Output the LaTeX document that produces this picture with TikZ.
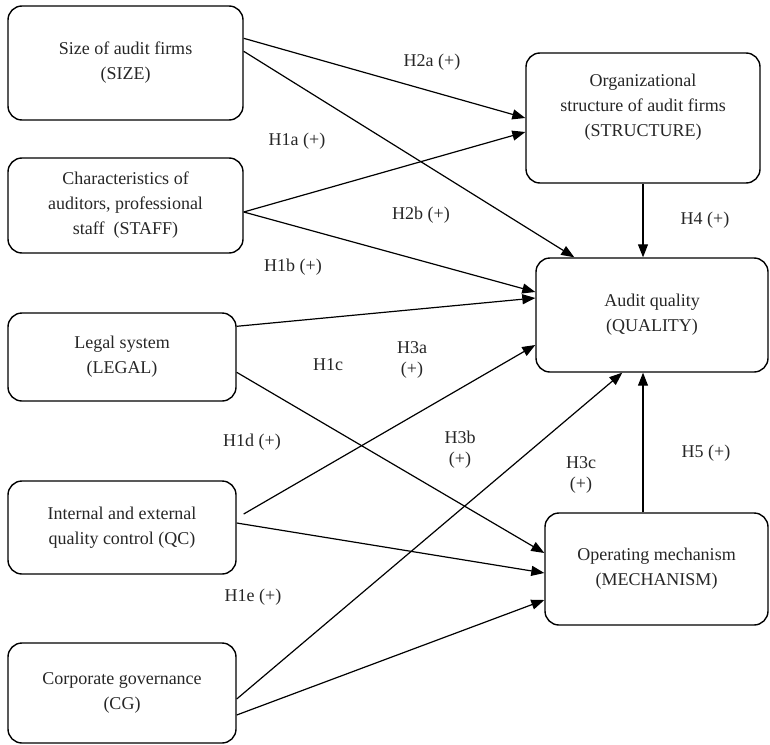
\documentclass[tikz,border=0pt]{standalone}
\usepackage{fontspec}
\setmainfont{Liberation Serif}
\usetikzlibrary{arrows.meta,calc}
\begin{document}
\begin{tikzpicture}[x=1bp,y=-1bp,
  box/.style={draw, rounded corners=14bp, line width=1.4bp, align=center, inner sep=0pt,
    font=\fontsize{18bp}{25bp}\selectfont, text=black!85},
  lbl/.style={align=center, inner sep=0pt, font=\fontsize{18bp}{21bp}\selectfont, text=black!85},
  arr/.style={-{Triangle[length=13bp,width=10bp]}, line width=1.2bp}]
\useasboundingbox (0,0) rectangle (770,745);
% left boxes
\node[box, minimum width=235bp, minimum height=114bp] (size) at (125.5,63) {Size of audit firms\\(SIZE)};
\node[box, minimum width=235bp, minimum height=95bp] (staff) at (125.5,205.5) {Characteristics of\\auditors, professional\\staff\ \ (STAFF)};
\node[box, minimum width=228bp, minimum height=88bp] (legal) at (122,357) {Legal system\\(LEGAL)};
\node[box, minimum width=228bp, minimum height=93bp] (qc) at (122,527.5) {Internal and external\\quality control (QC)};
\node[box, minimum width=228bp, minimum height=100bp] (cg) at (122,693) {Corporate governance\\(CG)};
% right boxes
\node[box, minimum width=234bp, minimum height=130bp] (structure) at (643,118) {Organizational\\structure of audit firms\\(STRUCTURE)\\\mbox{}};
\node[box, minimum width=232bp, minimum height=114bp] (quality) at (652,315) {Audit quality\\(QUALITY)};
\node[box, minimum width=223bp, minimum height=112bp] (mechanism) at (656.5,569) {Operating mechanism\\(MECHANISM)};
% connectors
\draw[arr] ($(size.north east)+(0,33)$) -- (structure.west);
\draw[arr] ($(size.north east)+(0,46)$) -- ($(quality.north west)+(39,0)$);
\draw[arr] ($(staff.east)+(0,6.5)$) -- ($(structure.west)+(0,14)$);
\draw[arr] ($(staff.east)+(0,6.5)$) -- ($(quality.west)+(0,-23)$);
\draw[arr] ($(legal.north east)+(0,14)$) -- ($(quality.west)+(0,-17)$);
\draw[arr] ($(legal.north east)+(0,60)$) -- ($(mechanism.west)+(0,-16)$);
\draw[arr] ($(qc.east)+(7,-13.5)$) -- ($(quality.west)+(0,30)$);
\draw[arr] ($(qc.east)+(0,-4.5)$) -- ($(mechanism.west)+(0,4)$);
\draw[arr] ($(cg.east)+(0,6)$) -- ($(quality.south west)+(87,0)$);
\draw[arr] ($(cg.east)+(0,22)$) -- ($(mechanism.west)+(0,31)$);
\draw[arr] (structure.south) -- (structure.south |- quality.north);
\draw[arr] (structure.south |- mechanism.north) -- (structure.south |- quality.south);
% labels
\node[lbl] (l2a) at (432,62) {H2a (+)};
\node[lbl] (l1a) at (297,141) {H1a (+)};
\node[lbl] (l2b) at (421,215) {H2b (+)};
\node[lbl] (l1b) at (293,267) {H1b (+)};
\node[lbl] (l4) at (705,220) {H4 (+)};
\node[lbl] (l1c) at (328,365) {H1c};
\node[lbl] (l3a) at (412,360) {H3a\\(+)};
\node[lbl] (l1d) at (252,442) {H1d (+)};
\node[lbl] (l3b) at (460,450) {H3b\\(+)};
\node[lbl] (l3c) at (581,475) {H3c\\(+)};
\node[lbl] (l5) at (706,453) {H5 (+)};
\node[lbl] (l1e) at (253,597) {H1e (+)};
\end{tikzpicture}
\end{document}
